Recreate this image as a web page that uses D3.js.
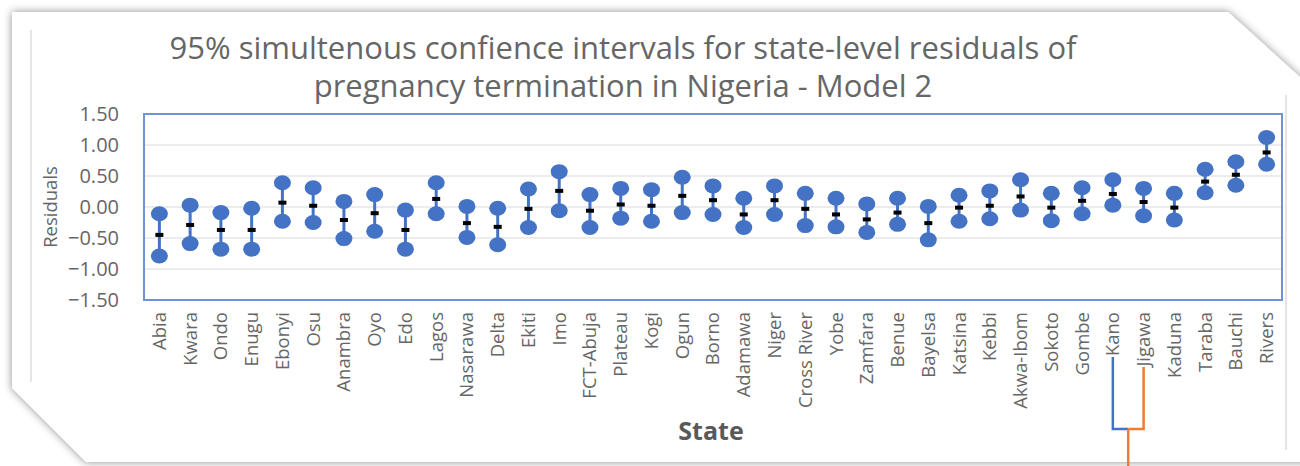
<!DOCTYPE html>
<html>
<head>
<meta charset="utf-8">
<script src="https://cdn.jsdelivr.net/npm/d3@7"></script>
<style>
  html, body { margin: 0; padding: 0; background: #fff; }
  svg { display: block; }
  text { font-family: "Open Sans", "DejaVu Sans", sans-serif; }
</style>
</head>
<body>
<div id="chart"></div>
<script>
// states in the order they appear on the axis
var states = ["Abia", "Kwara", "Ondo", "Enugu", "Ebonyi", "Osu", "Anambra", "Oyo", "Edo", "Lagos",
    "Nasarawa", "Delta", "Ekiti", "Imo", "FCT-Abuja", "Plateau", "Kogi", "Ogun", "Borno", "Adamawa",
    "Niger", "Cross River", "Yobe", "Zamfara", "Benue", "Bayelsa", "Katsina", "Kebbi", "Akwa-Ibom",
    "Sokoto", "Gombe", "Kano", "Jigawa", "Kaduna", "Taraba", "Bauchi", "Rivers"];

// upper / lower limits of the interval and the residual itself
var upper = [-0.11, 0.03, -0.09, -0.02, 0.39, 0.31, 0.09, 0.20, -0.05, 0.39,
    0.01, -0.02, 0.29, 0.57, 0.20, 0.30, 0.28, 0.48, 0.34, 0.14,
    0.34, 0.22, 0.14, 0.05, 0.14, 0.01, 0.19, 0.26, 0.44,
    0.22, 0.31, 0.44, 0.30, 0.22, 0.61, 0.73, 1.12];
var lower = [-0.79, -0.59, -0.68, -0.68, -0.23, -0.25, -0.51, -0.39, -0.68, -0.11,
    -0.49, -0.61, -0.33, -0.06, -0.33, -0.18, -0.23, -0.09, -0.12, -0.33,
    -0.12, -0.30, -0.32, -0.41, -0.28, -0.53, -0.23, -0.19, -0.05,
    -0.22, -0.11, 0.03, -0.14, -0.21, 0.23, 0.35, 0.69];
var residual = [-0.45, -0.29, -0.37, -0.37, 0.07, 0.02, -0.21, -0.10, -0.37, 0.13,
    -0.26, -0.32, -0.03, 0.26, -0.06, 0.04, 0.02, 0.18, 0.11, -0.12,
    0.11, -0.03, -0.12, -0.20, -0.09, -0.26, -0.01, 0.02, 0.17,
    -0.01, 0.10, 0.21, 0.08, -0.01, 0.41, 0.52, 0.88];

var yTicks = [1.5, 1.0, 0.5, 0, -0.5, -1.0, -1.5];
var titleLines = ["95% simultenous confience intervals for state-level residuals of",
    "pregnancy termination in Nigeria - Model 2"];

drawChart();

function drawChart() {
    const width = 1300;
    const height = 466;
    const plot = { left: 144, right: 1282, top: 114, bottom: 300 };
    const blue = "#4472C4";
    const grey = "#666666";

    const svg = d3.select("#chart").append("svg")
        .attr("width", width)
        .attr("height", height);

    // card with cut corners and a soft shadow
    const defs = svg.append("defs");
    const shadow = defs.append("filter").attr("id", "shadow")
        .attr("x", "-5%").attr("y", "-10%").attr("width", "110%").attr("height", "120%");
    shadow.append("feDropShadow")
        .attr("dx", 0).attr("dy", 0).attr("stdDeviation", 4)
        .attr("flood-color", "#000").attr("flood-opacity", 0.45);

    const card = [[12, 12], [1228, 12], [1312, 88], [1312, 462], [86, 462], [12, 388]];
    svg.append("path")
        .attr("d", "M" + card.join("L") + "Z")
        .attr("fill", "#fff")
        .attr("filter", "url(#shadow)");

    // faint chart-area borders
    svg.append("line").attr("x1", 31).attr("x2", 31).attr("y1", 30).attr("y2", 382)
        .attr("stroke", "#dcdcdc").attr("stroke-width", 1.5);
    svg.append("line").attr("x1", 1286).attr("x2", 1286).attr("y1", 95).attr("y2", 450)
        .attr("stroke", "#dcdcdc").attr("stroke-width", 1.5);

    // scales
    const x = d3.scaleBand().domain(states).range([plot.left, plot.right]).padding(0);
    const y = d3.scaleLinear().domain([-1.5, 1.5]).range([plot.bottom, plot.top]);
    const cx = d => x(d) + x.bandwidth() / 2;

    // title
    svg.append("g").selectAll("text")
        .data(titleLines)
        .enter()
        .append("text")
        .attr("x", 623)
        .attr("y", (d, i) => 59 + i * 38)
        .attr("text-anchor", "middle")
        .attr("fill", grey)
        .style("font-size", "31px")
        .text(d => d);

    // gridlines
    svg.append("g").selectAll("line")
        .data(yTicks.filter(t => Math.abs(t) < 1.5))
        .enter()
        .append("line")
        .attr("x1", plot.left).attr("x2", plot.right)
        .attr("y1", d => y(d)).attr("y2", d => y(d))
        .attr("stroke", "#d9d9d9").attr("stroke-width", 1.2);

    // y axis
    const yAxis = svg.append("g")
        .attr("transform", `translate(${plot.left - 25},0)`)
        .call(d3.axisLeft(y).tickValues(yTicks).tickFormat(d3.format(".2f")).tickSize(0).tickPadding(0));
    yAxis.select(".domain").remove();
    yAxis.selectAll("text")
        .attr("fill", grey)
        .style("font-size", "20px");

    svg.append("text")
        .attr("transform", `translate(57,${(plot.top + plot.bottom) / 2}) rotate(-90)`)
        .attr("text-anchor", "middle")
        .attr("fill", grey)
        .style("font-size", "18.5px")
        .text("Residuals");

    // x axis labels
    const xAxis = svg.append("g")
        .attr("transform", `translate(0,${plot.bottom})`)
        .call(d3.axisBottom(x).tickSize(0).tickPadding(0));
    xAxis.select(".domain").remove();
    xAxis.selectAll("text")
        .attr("transform", "rotate(-90)")
        .attr("x", -12)
        .attr("y", 0)
        .attr("dy", "0.35em")
        .attr("text-anchor", "end")
        .attr("fill", grey)
        .style("font-size", "18.5px");

    svg.append("text")
        .attr("x", 711)
        .attr("y", 440)
        .attr("text-anchor", "middle")
        .attr("fill", "#595959")
        .style("font-size", "25px")
        .style("font-weight", "bold")
        .text("State");

    // plot area border
    svg.append("rect")
        .attr("x", plot.left).attr("y", plot.top)
        .attr("width", plot.right - plot.left).attr("height", plot.bottom - plot.top)
        .attr("fill", "none")
        .attr("stroke", "#6f93d6").attr("stroke-width", 2);

    // intervals
    const data = states.map(function(s, i) {
        return { s: s, lo: lower[i], hi: upper[i], mid: residual[i] };
    });

    const bars = svg.append("g").selectAll("g")
        .data(data)
        .enter()
        .append("g");

    bars.append("line")
        .attr("x1", d => cx(d.s)).attr("x2", d => cx(d.s))
        .attr("y1", d => y(d.hi)).attr("y2", d => y(d.lo))
        .attr("stroke", blue).attr("stroke-width", 3);

    bars.append("ellipse")
        .attr("cx", d => cx(d.s)).attr("cy", d => y(d.hi))
        .attr("rx", 8.5).attr("ry", 7.5)
        .attr("fill", blue);

    bars.append("ellipse")
        .attr("cx", d => cx(d.s)).attr("cy", d => y(d.lo))
        .attr("rx", 8.5).attr("ry", 7.5)
        .attr("fill", blue);

    bars.append("rect")
        .attr("x", d => cx(d.s) - 4).attr("y", d => y(d.mid) - 2)
        .attr("width", 8).attr("height", 4)
        .attr("fill", "#000");

    // bracket drawn over Kano / Jigawa labels
    const kx = cx("Kano"), jx = cx("Jigawa");
    const mx = (kx + jx) / 2;
    svg.append("path")
        .attr("d", `M${kx},357V429H${mx}`)
        .attr("fill", "none").attr("stroke", blue).attr("stroke-width", 2.5);
    svg.append("path")
        .attr("d", `M${mx},429H${jx}V367M${mx},429V466`)
        .attr("fill", "none").attr("stroke", "#ED7D31").attr("stroke-width", 2.5);
}
</script>
</body>
</html>
